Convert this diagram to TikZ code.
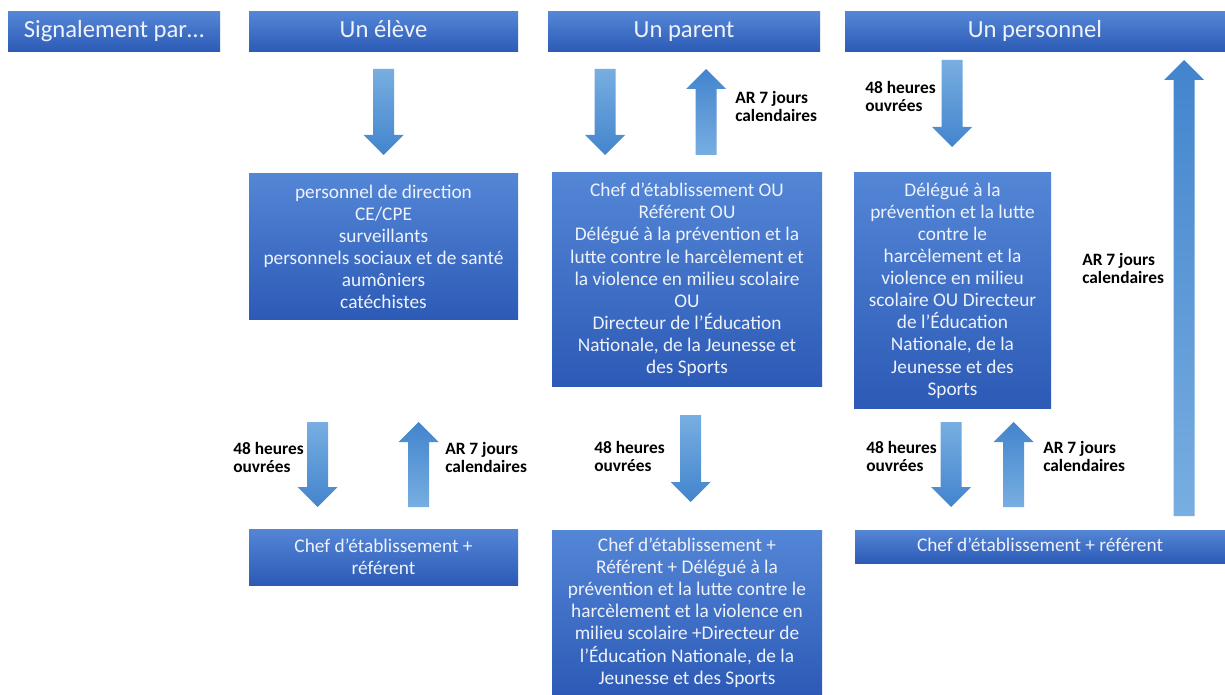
\documentclass[tikz,border=0pt]{standalone}
\usepackage{fontspec}
\setmainfont{Carlito}
\usetikzlibrary{calc}
\definecolor{boxtop}{RGB}{84,134,214}
\definecolor{boxbot}{RGB}{44,90,182}
\definecolor{boxtxt}{RGB}{238,242,250}
\definecolor{arrlight}{RGB}{120,174,225}
\definecolor{arrdark}{RGB}{66,132,205}
\tikzset{
  bluebox/.style={top color=boxtop, bottom color=boxbot, draw=none, text=boxtxt,
    align=center, inner sep=0pt, font=\fontsize{14.5}{16.6}\selectfont},
  headbox/.style={bluebox, font=\fontsize{18.5}{22}\selectfont,
    text height=12.5pt, text depth=3.5pt},
  onelinebox/.style={bluebox, text height=10pt, text depth=3pt},
  delay/.style={anchor=west, align=left, inner sep=0pt,
    font=\fontsize{13}{13.5}\selectfont\bfseries, text=black},
  downarr/.style={top color=arrlight, bottom color=arrdark},
  uparr/.style={top color=arrdark, bottom color=arrlight},
}
\newcommand\blkdown[2]{\shade[downarr] let \p1=(#1), \p2=(#2) in
  (\x1-7.875pt,\y1) -- (\x1+7.875pt,\y1) -- (\x1+7.875pt,\y2+15pt) -- (\x1+15pt,\y2+15pt)
  -- (\x1,\y2) -- (\x1-15pt,\y2+15pt) -- (\x1-7.875pt,\y2+15pt) -- cycle;}
\newcommand\blkup[2]{\shade[uparr] let \p1=(#1), \p2=(#2) in
  (\x1-7.875pt,\y1) -- (\x1+7.875pt,\y1) -- (\x1+7.875pt,\y2-15pt) -- (\x1+15pt,\y2-15pt)
  -- (\x1,\y2) -- (\x1-15pt,\y2-15pt) -- (\x1-7.875pt,\y2-15pt) -- cycle;}
\begin{document}
\begin{tikzpicture}[x=0.75pt,y=-0.75pt]
\fill[white] (0,0) rectangle (1225,695);
\useasboundingbox (0,0) rectangle (1225,695);

% headers
\node[headbox, minimum width=159pt, minimum height=30pt] (h0) at (114,32) {Signalement par\dots};
\node[headbox, minimum width=201.75pt, minimum height=30pt] (h1) at (383.5,32) {Un élève};
\node[headbox, minimum width=204pt, minimum height=30pt] (h2) at (684,32) {Un parent};
\node[headbox, minimum width=285pt, minimum height=30pt] (h3) at (1035,32) {Un personnel};

% middle boxes
\node[bluebox, minimum width=201.75pt, minimum height=109.5pt] (b1) at (383.5,247)
  {personnel de direction\\CE/CPE\\surveillants\\personnels sociaux et de santé\\aumôniers\\catéchistes};
\node[bluebox, minimum width=202.5pt, minimum height=160.5pt] (b2) at (687,280)
  {Chef d’établissement OU\\Référent OU\\Délégué à la prévention et la\\lutte contre le harcèlement et\\la violence en milieu scolaire\\OU\\Directeur de l’Éducation\\Nationale, de la Jeunesse et\\des Sports};
\node[bluebox, minimum width=147.75pt, minimum height=177pt] (b3) at (952.5,290.5)
  {Délégué à la\\prévention et la lutte\\contre le\\harcèlement et la\\violence en milieu\\scolaire OU Directeur\\de l’Éducation\\Nationale, de la\\Jeunesse et des\\Sports};

% bottom boxes
\node[bluebox, minimum width=201.75pt, minimum height=42pt] (c1) at (383.5,557)
  {Chef d’établissement +\\référent};
\node[bluebox, minimum width=202.5pt, minimum height=123.75pt] (c2) at (687,612.5)
  {Chef d’établissement +\\Référent + Délégué à la\\prévention et la lutte contre le\\harcèlement et la violence en\\milieu scolaire +Directeur de\\l’Éducation Nationale, de la\\Jeunesse et des Sports};
\node[onelinebox, minimum width=277.5pt, minimum height=24.75pt] (c3) at (1040,546.5)
  {Chef d’établissement + référent};

% arrow end points
\coordinate (a1t) at (383.5,69);  \coordinate (a1h) at (383.5,155);
\coordinate (a2t) at (317.5,422); \coordinate (a2h) at (317.5,507);
\coordinate (a3t) at (418.5,507); \coordinate (a3h) at (418.5,422);
\coordinate (p1t) at (605,69);    \coordinate (p1h) at (605,155);
\coordinate (p2t) at (706,155);   \coordinate (p2h) at (706,69);
\coordinate (p3t) at (690.5,415); \coordinate (p3h) at (690.5,502);
\coordinate (q1t) at (952,60);    \coordinate (q1h) at (952,147);
\coordinate (q2t) at (951,422);   \coordinate (q2h) at (951,507);
\coordinate (q3t) at (1013.5,507);\coordinate (q3h) at (1013.5,422);
\coordinate (q4t) at (1184,516);  \coordinate (q4h) at (1184,60);

\blkdown{a1t}{a1h}
\blkdown{a2t}{a2h}
\blkup{a3t}{a3h}
\blkdown{p1t}{p1h}
\blkup{p2t}{p2h}
\blkdown{p3t}{p3h}
\blkdown{q1t}{q1h}
\blkdown{q2t}{q2h}
\blkup{q3t}{q3h}
\blkup{q4t}{q4h}

% delay labels
\node[delay] (l1) at (233,457) {48 heures\\ouvrées};
\node[delay] (l2) at (445,457) {AR 7 jours\\calendaires};
\node[delay] (l3) at (735,106) {AR 7 jours\\calendaires};
\node[delay] (l4) at (594,456) {48 heures\\ouvrées};
\node[delay] (l5) at (865,96.5) {48 heures\\ouvrées};
\node[delay] (l6) at (1082,268) {AR 7 jours\\calendaires};
\node[delay] (l7) at (866,456.5) {48 heures\\ouvrées};
\node[delay] (l8) at (1043,456.5) {AR 7 jours\\calendaires};
\end{tikzpicture}
\end{document}
